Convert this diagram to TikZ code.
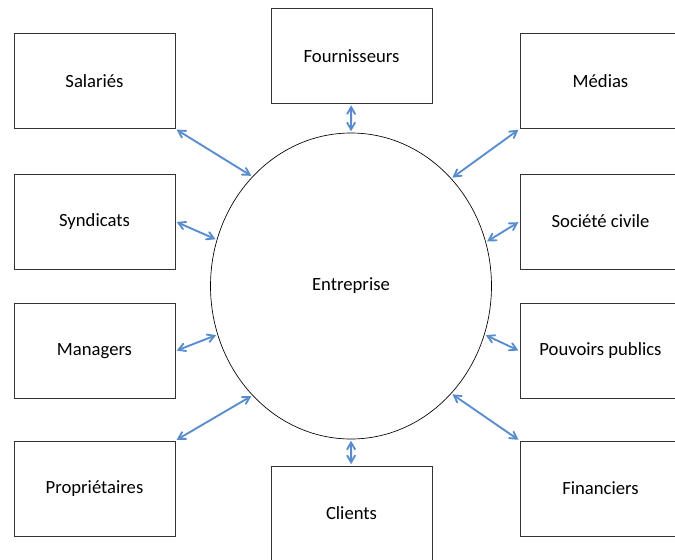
\documentclass[tikz,border=0pt]{standalone}
\usepackage{fontspec}
\setmainfont{Carlito}
\usepackage{tikz}
\usetikzlibrary{shapes.geometric,arrows}
\definecolor{linkblue}{RGB}{88,140,205}

\begin{document}
\begin{tikzpicture}[x=0.75pt,y=-0.75pt,
    box/.style={draw=black!80, line width=0.7pt, minimum width=120.75pt, minimum height=71.25pt, font=\fontsize{14}{17}\selectfont},
    link/.style={<->, >=angle 60, line width=1.4pt, color=linkblue, shorten <=1pt, shorten >=1pt}]
            \useasboundingbox (0,0) rectangle (675,560);
            \node (E) at (351,286) [ellipse, draw, line width=0.5pt, inner sep=0pt, minimum width=210.75pt, minimum height=229.5pt, font=\fontsize{14}{17}\selectfont] {Entreprise};
            \node (F) at (351.5,56) [box] {Fournisseurs};
            \node (C) at (351.5,513.5) [box] {Clients};
            \node (Sa) at (94.5,81) [box] {Salariés};
            \node (Sy) at (94.5,221.5) [box] {Syndicats};
            \node (Ma) at (94.5,351) [box] {Managers};
            \node (Pr) at (94.5,488.5) [box] {Propriétaires};
            \node (Me) at (600.5,81) [box] {Médias};
            \node (So) at (600.5,221.5) [box] {Société civile};
            \node (Pp) at (600.5,351) [box] {Pouvoirs publics};
            \node (Fi) at (600.5,488.5) [box] {Financiers};
            \path[link] (F) edge (E.90);
            \path[link] (C) edge (E.270);
            \path[link] (Sa.south east) edge (E.132);
            \path[link] (Sy.east) edge (E.161);
            \path[link] (Ma.east) edge (E.200);
            \path[link] (Pr.north east) edge (E.228);
            \path[link] (Me.south west) edge (E.47);
            \path[link] (So.west) edge (E.18.5);
            \path[link] (Pp.west) edge (E.340);
            \path[link] (Fi.north west) edge (E.313);
        \end{tikzpicture}
\end{document}
